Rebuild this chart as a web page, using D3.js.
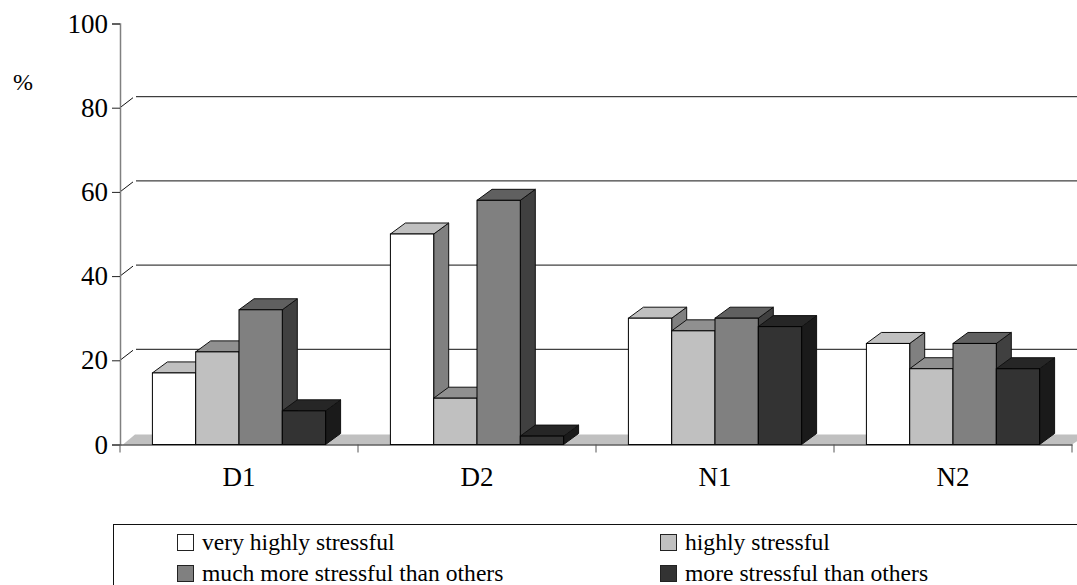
<!DOCTYPE html>
<html>
<head>
<meta charset="utf-8">
<script src="https://cdn.jsdelivr.net/npm/d3@7"></script>
<style>
    html, body { margin: 0; background: #fff; overflow: hidden; }
    svg { display: block; font-family: "Liberation Serif", serif; fill: #000; }
</style>
</head>
<body>
<svg></svg>
<script>
const categories = ['D1', 'D2', 'N1', 'N2'];
const seriesNames = ['very highly stressful', 'highly stressful', 'much more stressful than others', 'more stressful than others'];
const veryHigh = [17, 50, 30, 24];
const high = [22, 11, 27, 18];
const muchMore = [32, 58, 30, 24];
const more = [8, 2, 28, 18];
const yTicks = [0, 20, 40, 60, 80, 100];

const frontColors = ['#ffffff', '#c0c0c0', '#808080', '#333333'];
const topColors = ['#c0c0c0', '#909090', '#606060', '#262626'];
const sideColors = ['#808080', '#909090', '#404040', '#1a1a1a'];

init();

function init() {
    const w = 1077, h = 585;
    const dx = 15, dy = 11; // fake 3d depth

    const svg = d3.select('svg').attr('width', w).attr('height', h);

    const y = d3.scaleLinear().domain([0, 100]).range([444.5, 23.5]);
    const x = d3.scaleBand().domain(categories).range([120, 1072]);
    const xInner = d3.scaleBand().domain(d3.range(4)).range([32.4, x.bandwidth() - 32.4]);

    // floor
    const x0 = x.range()[0], x1 = x.range()[1];
    svg.append('path')
        .attr('d', `M${x0 + 3},${y(0)}L${x0 + 15},${y(0) - dy + 1}L${x1 + dx},${y(0) - dy + 1}L${x1},${y(0)}Z`)
        .attr('fill', '#c0c0c0');

    // grid lines on the back wall, with the little diagonal on the side wall
    const gGrid = svg.append('g');
    yTicks.filter(d => d > 0 && d < 100).forEach(d => {
        gGrid.append('line')
            .attr('x1', x0 + 16).attr('x2', w)
            .attr('y1', y(d) - dy).attr('y2', y(d) - dy)
            .attr('stroke', '#111').attr('stroke-width', 1);
        gGrid.append('line')
            .attr('x1', x0).attr('x2', x0 + 13)
            .attr('y1', y(d)).attr('y2', y(d) - dy + 1)
            .attr('stroke', '#111').attr('stroke-width', 1);
    });

    // bars
    const seriesValues = [veryHigh, high, muchMore, more];
    categories.forEach((cat, c) => {
        const g = svg.append('g').attr('transform', `translate(${x(cat)},0)`);
        seriesValues.forEach((vals, s) => {
            const bx = xInner(s), bw = xInner.bandwidth(), top = y(vals[c]), base = y(0);
            g.append('path')
                .attr('d', `M${bx + bw},${base}L${bx + bw + dx},${base - dy}L${bx + bw + dx},${top - dy}L${bx + bw},${top}Z`)
                .attr('fill', sideColors[s]).attr('stroke', '#111').attr('stroke-width', 1);
            g.append('path')
                .attr('d', `M${bx},${top}L${bx + dx},${top - dy}L${bx + bw + dx},${top - dy}L${bx + bw},${top}Z`)
                .attr('fill', topColors[s]).attr('stroke', '#111').attr('stroke-width', 1);
            g.append('rect')
                .attr('x', bx).attr('y', top).attr('width', bw).attr('height', base - top)
                .attr('fill', frontColors[s]).attr('stroke', '#000').attr('stroke-width', 1);
        });
    });

    // axes
    const yAxis = d3.axisLeft(y).tickValues(yTicks).tickSize(8).tickPadding(4);
    const gy = svg.append('g').attr('transform', `translate(${x0},0)`).call(yAxis);
    gy.select('.domain').attr('stroke', '#808080').attr('stroke-width', 1.5);
    gy.selectAll('.tick line').attr('stroke', '#222');
    gy.selectAll('text').attr('font-size', 27).attr('font-family', '"Liberation Serif", serif').attr('fill', '#000');

    const xAxis = d3.axisBottom(x).tickSize(0).tickPadding(22);
    const gx = svg.append('g').attr('transform', `translate(0,${y(0)})`).call(xAxis);
    gx.select('.domain').attr('stroke', '#111').attr('stroke-width', 1);
    gx.selectAll('text').attr('font-size', 27).attr('font-family', '"Liberation Serif", serif').attr('fill', '#000');

    categories.concat(['end']).forEach((cat, i) => {
        const tx = x0 + i * x.step();
        gx.append('line').attr('x1', tx).attr('x2', tx).attr('y1', 0).attr('y2', 8).attr('stroke', '#555');
    });

    svg.append('text').attr('x', 13).attr('y', 90).attr('font-size', 24).text('%');

    // legend, runs off the right and bottom of the picture
    svg.append('rect')
        .attr('x', 113.5).attr('y', 524.5).attr('width', 1000).attr('height', 100)
        .attr('fill', 'none').attr('stroke', '#111').attr('stroke-width', 1);

    const legendX = [177, 660], legendY = [543, 574];
    seriesNames.forEach((name, i) => {
        const lx = legendX[i % 2], ly = legendY[Math.floor(i / 2)];
        svg.append('rect')
            .attr('x', lx + 0.5).attr('y', ly - 8.5).attr('width', 16).attr('height', 16)
            .attr('fill', frontColors[i]).attr('stroke', '#222').attr('stroke-width', 1);
        svg.append('text').attr('x', lx + 25).attr('y', ly + 7).attr('font-size', 23.6).text(name);
    });
}
</script>
</body>
</html>
